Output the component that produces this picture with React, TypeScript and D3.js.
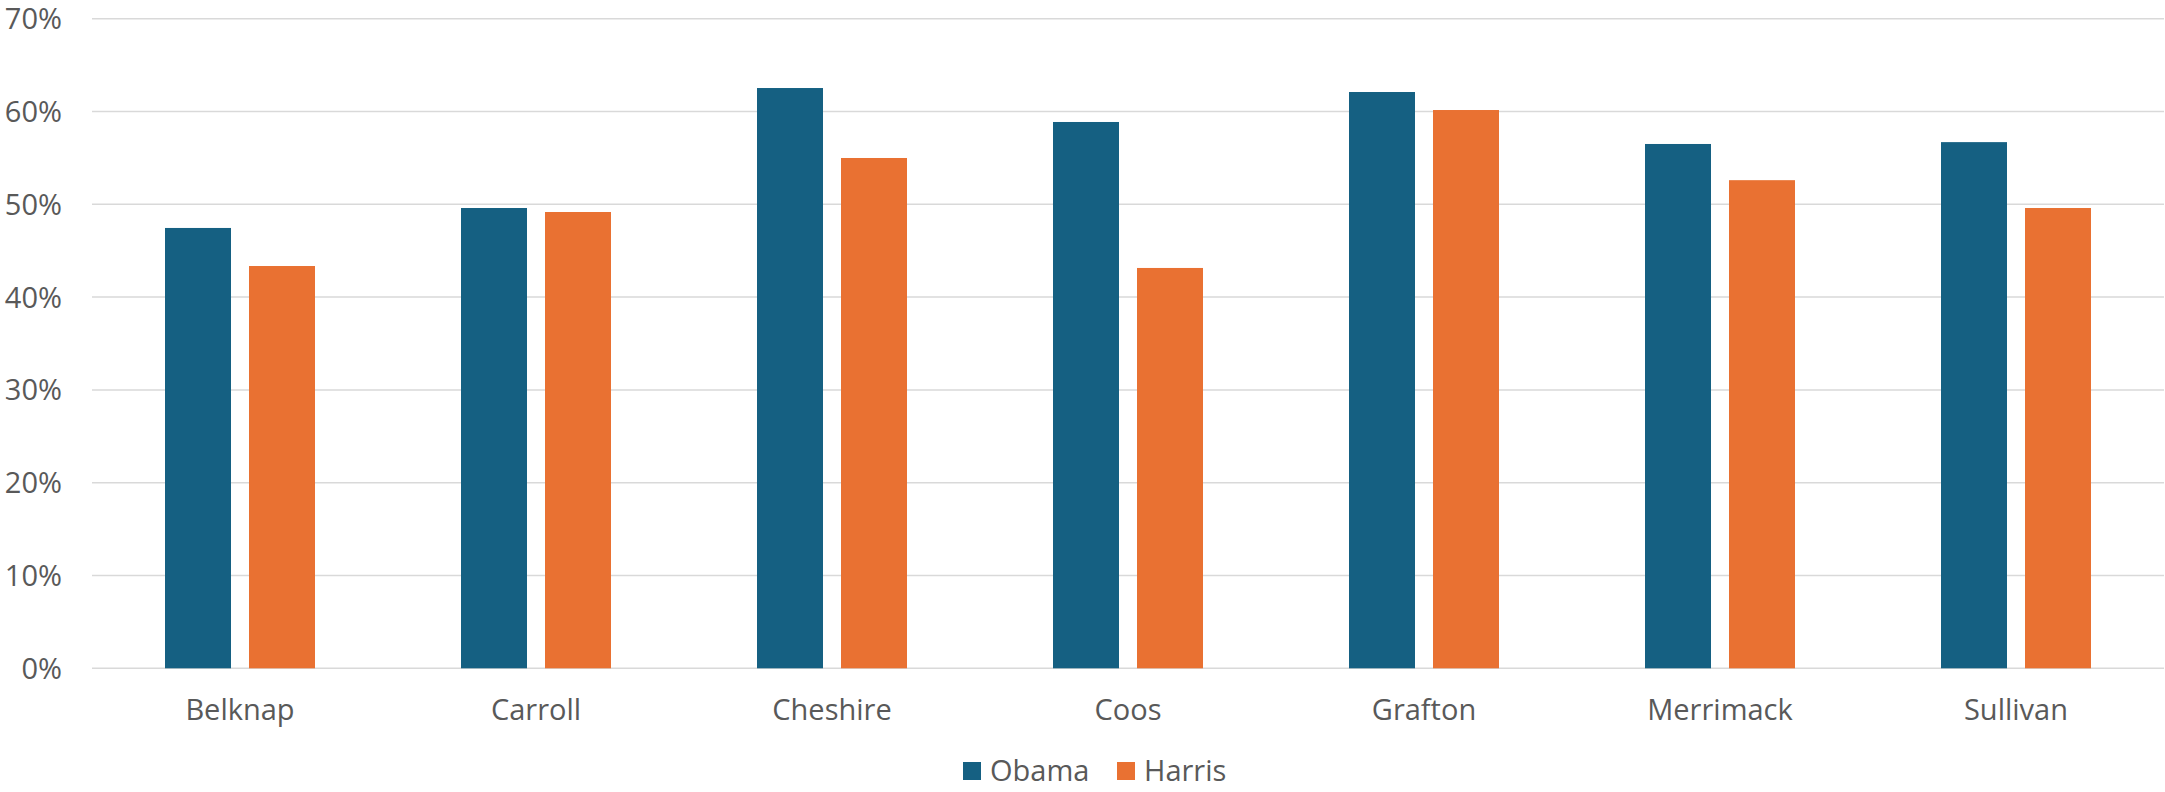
import React from "react";
import * as d3 from "d3";

const categories = ["Belknap", "Carroll", "Cheshire", "Coos", "Grafton", "Merrimack", "Sullivan"];
const seriesNames = ["Obama", "Harris"];
const obamaValues = [47.45, 49.6, 62.53, 58.87, 62.1, 56.5, 56.7];
const harrisValues = [43.35, 49.17, 54.99, 43.14, 60.16, 52.6, 49.6];
const yTicks = [0, 10, 20, 30, 40, 50, 60, 70];
const colors = ["#156082", "#E97132"];

const W = 2165;
const H = 792;
const FONT = "'Open Sans', 'Liberation Sans', sans-serif";
const TEXT = "#595959";

export default function App() {
  const x = d3.scaleBand<string>().domain(categories).range([92, 2164]).paddingInner(0).paddingOuter(0);
  const xs = d3.scaleBand<string>().domain(seriesNames).range([73, 223]).paddingInner(0.2143).paddingOuter(0);
  const y = d3.scaleLinear().domain([0, 70]).range([668.3, 18.7]);
  const data = [obamaValues, harrisValues];

  return (
    <svg width={W} height={H} style={{ position: "absolute", left: 0, top: 0, background: "#fff" }}>
      <rect x={0} y={0} width={W} height={H} fill="#fff" />
      {yTicks.map((t) => (
        <g key={t}>
          <line x1={92} x2={2164} y1={y(t)} y2={y(t)} stroke="#D9D9D9" strokeWidth={1.5} />
          <text x={62} y={y(t) + 10.5} textAnchor="end" fontFamily={FONT} fontSize={29} fill={TEXT}>
            {t}%
          </text>
        </g>
      ))}
      {categories.map((c, i) => (
        <g key={c}>
          {seriesNames.map((s, j) => (
            <rect
              key={s}
              x={(x(c) as number) + (xs(s) as number)}
              y={y(data[j][i])}
              width={xs.bandwidth()}
              height={y(0) - y(data[j][i])}
              fill={colors[j]}
            />
          ))}
          <text
            x={(x(c) as number) + x.bandwidth() / 2}
            y={720}
            textAnchor="middle"
            fontFamily={FONT}
            fontSize={29}
            fill={TEXT}
          >
            {c}
          </text>
        </g>
      ))}
      {seriesNames.map((s, j) => {
        const lx = [963, 1117][j];
        return (
          <g key={s}>
            <rect x={lx} y={762} width={18} height={18} fill={colors[j]} />
            <text x={lx + 27} y={781} fontFamily={FONT} fontSize={29} fill={TEXT}>
              {s}
            </text>
          </g>
        );
      })}
    </svg>
  );
}
